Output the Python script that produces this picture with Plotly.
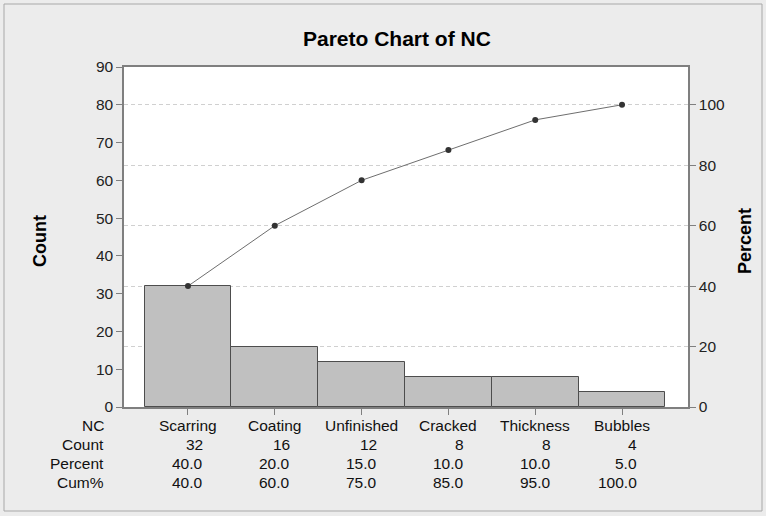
import plotly.graph_objects as go

categories = ["Scarring", "Coating", "Unfinished", "Cracked", "Thickness", "Bubbles"]
counts = [32, 16, 12, 8, 8, 4]
percents = [40.0, 20.0, 15.0, 10.0, 10.0, 5.0]
cum_pct = [40.0, 60.0, 75.0, 85.0, 95.0, 100.0]
count_ticks = [0, 10, 20, 30, 40, 50, 60, 70, 80, 90]
pct_ticks = [0, 20, 40, 60, 80, 100]

W, H = 766, 516
L, R, T, B = 124, 78, 67, 109
PW, PH = W - L - R, H - T - B

def px_x(px):
    return (px - L) / PW

def px_y(py):
    return (H - B - py) / PH

xs = list(range(len(categories)))
FONT = "Liberation Sans, Arial, sans-serif"
FS = 15.5

fig = go.Figure()
fig.add_trace(go.Bar(
    x=xs, y=counts, width=1.0,
    marker=dict(color="#c0c0c0", line=dict(color="#4d4d4d", width=1)),
    yaxis="y", showlegend=False, hoverinfo="skip",
))
fig.add_trace(go.Scatter(
    x=xs, y=cum_pct, mode="lines+markers",
    line=dict(color="#6e6e6e", width=1),
    marker=dict(color="#333333", size=6),
    yaxis="y2", showlegend=False, hoverinfo="skip",
))

annotations = []
row_y = [px_y(425), px_y(444), px_y(463), px_y(482)]
row_labels = ["NC", "Count", "Percent", "Cum%"]
for lab, yy in zip(row_labels, row_y):
    annotations.append(dict(text=lab, x=px_x(106), y=yy, xref="paper", yref="paper",
                            xanchor="right", yanchor="middle", showarrow=False,
                            font=dict(size=FS, color="#111")))
for i, c in enumerate(categories):
    annotations.append(dict(text=c, x=i, y=row_y[0], xref="x", yref="paper",
                            xanchor="center", yanchor="middle", showarrow=False,
                            font=dict(size=FS, color="#111")))
    for vals, yy, fmt in [(counts, row_y[1], "{:d}"), (percents, row_y[2], "{:.1f}"),
                          (cum_pct, row_y[3], "{:.1f}")]:
        annotations.append(dict(text=fmt.format(vals[i]), x=i + 0.2, y=yy, xref="x",
                                yref="paper", xanchor="right", yanchor="middle",
                                showarrow=False, font=dict(size=FS, color="#111")))

annotations.append(dict(text="<b>Count</b>", x=px_x(40), y=px_y(241), xref="paper", yref="paper",
                        textangle=-90, showarrow=False, xanchor="center", yanchor="middle",
                        font=dict(size=18, color="#000")))
annotations.append(dict(text="<b>Percent</b>", x=px_x(745), y=px_y(241), xref="paper", yref="paper",
                        textangle=-90, showarrow=False, xanchor="center", yanchor="middle",
                        font=dict(size=18, color="#000")))
annotations.append(dict(text="<b>Pareto Chart of NC</b>", x=px_x(397), y=px_y(38), xref="paper",
                        yref="paper", showarrow=False, xanchor="center", yanchor="middle",
                        font=dict(size=21, color="#000")))

shapes = [dict(type="rect", xref="paper", yref="paper",
               x0=px_x(4), x1=px_x(762), y0=px_y(511), y1=px_y(4),
               line=dict(color="#a8a8a8", width=1), layer="below")]

fig.update_layout(
    width=W, height=H,
    margin=dict(l=L, r=R, t=T, b=B),
    paper_bgcolor="#ececec", plot_bgcolor="#ffffff",
    font=dict(family=FONT, size=FS, color="#222"),
    bargap=0,
    xaxis=dict(range=[-0.737, 5.76], tickvals=xs, ticktext=[""] * len(xs),
               ticks="outside", ticklen=6, tickcolor="#7f7f7f",
               showline=True, linecolor="#7f7f7f", linewidth=1.5, mirror=True,
               showgrid=False, zeroline=False, fixedrange=True),
    yaxis=dict(range=[0, 90], tickvals=count_ticks, ticks="outside", ticklen=6,
               tickcolor="#7f7f7f", showline=True, linecolor="#7f7f7f", linewidth=1.5,
               showgrid=False, zeroline=False, tickfont=dict(size=FS, color="#222")),
    yaxis2=dict(range=[0, 112.5], tickvals=pct_ticks, overlaying="y", side="right",
                ticks="outside", ticklen=6, tickcolor="#7f7f7f",
                showline=True, linecolor="#7f7f7f", linewidth=1.5,
                showgrid=True, gridcolor="#d0d0d0", griddash="4px,3px", gridwidth=1,
                zeroline=False, tickfont=dict(size=FS, color="#222")),
    annotations=annotations, shapes=shapes,
)

fig.write_html("out.html", config={"displayModeBar": False},
               post_script="document.body.style.margin='0';document.body.style.overflow='hidden';")
